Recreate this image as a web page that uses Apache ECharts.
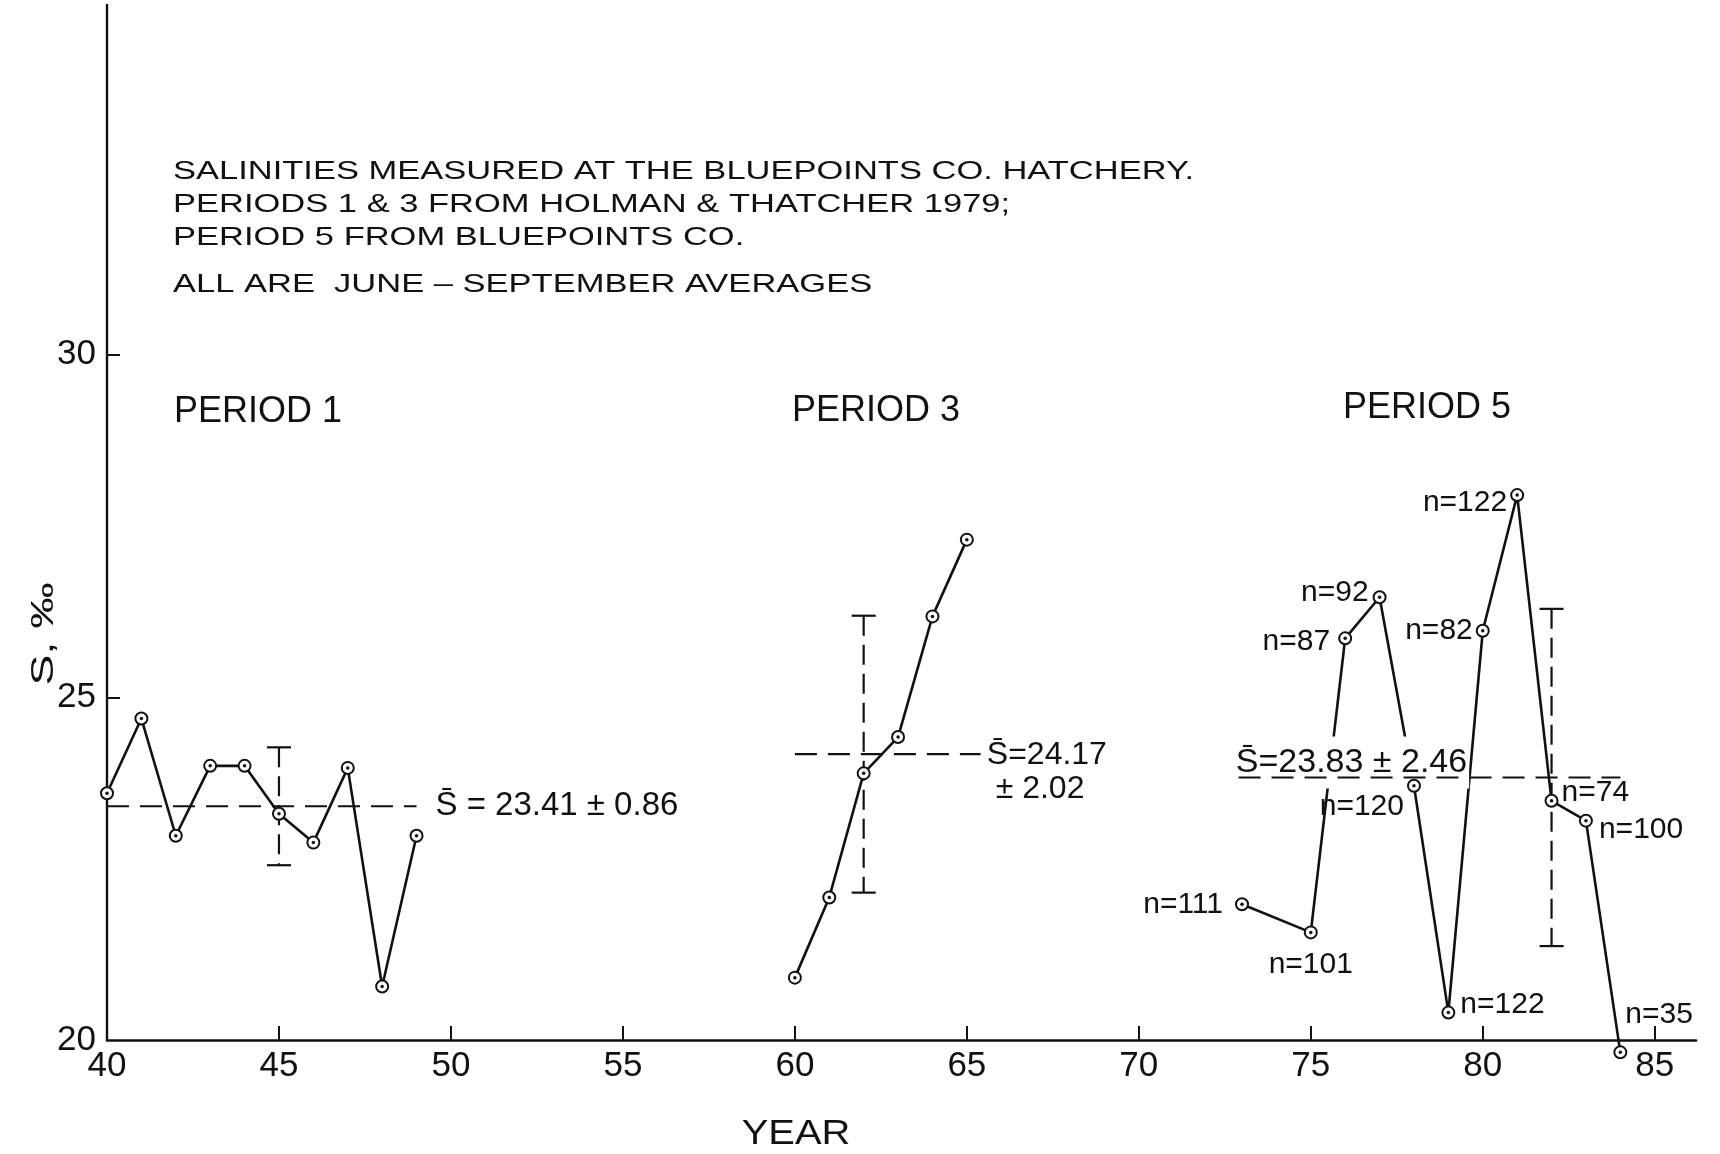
<!DOCTYPE html>
<html><head><meta charset="utf-8">
<script src="https://cdn.jsdelivr.net/npm/echarts@6/dist/echarts.min.js"></script>
<style>html,body{margin:0;padding:0;background:#fff}#chart{width:1720px;height:1154px}</style>
</head><body><div id="chart"></div>
<script>
const FONT = '"Liberation Sans", Arial, sans-serif';
const INK = '#111111';

// ---- data ----
const p1Years = [40, 41, 42, 43, 44, 45, 46, 47, 48, 49];
const p1Values = [23.60, 24.69, 22.98, 24.00, 24.00, 23.30, 22.88, 23.97, 20.78, 22.98];
const p3Years = [60, 61, 62, 63, 64, 65];
const p3Values = [20.91, 22.08, 23.89, 24.42, 26.18, 27.30];
const p5Years = [73, 75, 76, 77, 78, 79, 80, 81, 82, 83, 84];
const p5Values = [21.98, 21.57, 25.86, 26.46, 23.71, 20.40, 25.97, 27.95, 23.49, 23.20, 19.82];
const p5N = [111, 101, 87, 92, 120, 122, 82, 122, 74, 100, 35];
const periodNames = ['PERIOD 1', 'PERIOD 3', 'PERIOD 5'];
const meanValues = [23.41, 24.17, 23.83];
const sdValues = [0.86, 2.02, 2.46];
const meanStartYears = [40, 60, 72.9];
const meanEndYears = [49, 65.4, 84];
const errorBarYears = [45, 62, 82];
const meanLabels = ['S\u0304 = 23.41 \u00b1 0.86', 'S\u0304=24.17\n \u00b1 2.02', 'S\u0304=23.83 \u00b1 2.46'];
const xTickValues = [40, 45, 50, 55, 60, 65, 70, 75, 80, 85];
const yTickValues = [20, 25, 30];
const noteLines = [
  'SALINITIES MEASURED AT THE BLUEPOINTS CO. HATCHERY.',
  'PERIODS 1 & 3 FROM HOLMAN & THATCHER 1979;',
  'PERIOD 5 FROM BLUEPOINTS CO.',
  'ALL ARE  JUNE \u2013 SEPTEMBER AVERAGES'
];
const xAxisTitle = 'YEAR';
const yAxisTitle = 'S, \u2030';

// ---- layout (placement only) ----
const nLabelLayout = [
  ['left', 12, 0, 0], ['bottom', 10, 0, 0], ['left', 8, 0, 3], ['left', 4, 0, -4],
  ['left', 3, 0, 21], ['right', 5, 0, -8], ['left', 3, 0, 0], ['left', 3, 0, 8],
  ['right', 3, 0, -8], ['right', 6, 0, 9], ['right', -2, 0, -38]
];
const meanLabelAnchor = [[49.55, 0], [65.58, 18], [72.82, -15]];
const meanLabelSize = [33, 32, 34];
const periodLabelPos = [[174, 412], [792, 411], [1343, 408]];
const noteLineY = [172, 205, 238, 285];

const zip = (xs, ys) => xs.map((x, i) => [x, ys[i]]);

const lineSeries = (xs, ys) => ({
  type: 'line', data: zip(xs, ys), z: 2, clip: false,
  showSymbol: false, symbol: 'none',
  lineStyle: { color: INK, width: 2.6, opacity: 1 }, silent: true, animation: false
});

const markerData = [].concat(zip(p1Years, p1Values), zip(p3Years, p3Values));
const p5MarkerData = p5Years.map((y, i) => {
  const L = nLabelLayout[i];
  return {
    value: [y, p5Values[i]],
    label: { show: true, formatter: 'n=' + p5N[i], position: L[0], distance: L[1], offset: [L[2], L[3]] }
  };
});

const txt = (text, x, y, size, opts) => Object.assign({
  type: 'text', x: x, y: y, silent: true,
  style: Object.assign({ text: text, font: size + 'px ' + FONT, fill: INK,
    textVerticalAlign: 'middle', verticalAlign: 'middle' }, (opts && opts.style) || {})
}, (opts && opts.el) || {});

const chart = echarts.init(document.getElementById('chart'), null, { renderer: 'canvas' });
chart.setOption({
  backgroundColor: '#fff',
  animation: false,
  grid: { left: 107, right: 24, top: 5, bottom: 114 },
  xAxis: {
    type: 'value', min: 40, max: 86.2, interval: 5,
    axisLine: { lineStyle: { color: INK, width: 2.6 } },
    axisTick: { show: true, inside: true, length: 14, lineStyle: { color: INK, width: 2 }, customValues: xTickValues },
    axisLabel: { color: INK, fontFamily: FONT, fontSize: 35, margin: 9, customValues: xTickValues,
      formatter: v => (v > 85.5 ? '' : String(v)) },
    splitLine: { show: false }
  },
  yAxis: {
    type: 'value', min: 20, max: 35.1, interval: 5,
    axisLine: { show: true, lineStyle: { color: INK, width: 2.4 } },
    axisTick: { show: true, inside: true, length: 13, lineStyle: { color: INK, width: 2 }, customValues: [25, 30] },
    axisLabel: { color: INK, fontFamily: FONT, fontSize: 35, margin: 11, customValues: yTickValues,
      formatter: v => (v > 32 ? '' : String(v)) },
    splitLine: { show: false }
  },
  graphic: [].concat(
    noteLines.map((t, i) => txt(t, 173, noteLineY[i], 25, { el: { scaleX: 1.38 } })),
    periodNames.map((t, i) => txt(t, periodLabelPos[i][0], periodLabelPos[i][1], 36)),
    [
      txt(xAxisTitle, 796, 1134, 35, { el: { scaleX: 1.14 }, style: { textAlign: 'center', align: 'center' } }),
      txt(yAxisTitle, 44, 634, 32, { el: { rotation: Math.PI / 2, scaleX: 1.45 }, style: { textAlign: 'center', align: 'center' } })
    ]
  ),
  series: [
    lineSeries(p1Years, p1Values),
    lineSeries(p3Years, p3Values),
    lineSeries(p5Years, p5Values),
    // mean labels (white background breaks the lines beneath, as in the original)
    {
      type: 'scatter', z: 3, symbolSize: 0, silent: true, clip: false,
      itemStyle: { opacity: 1 },
      data: meanValues.map((m, i) => ({
        value: [meanLabelAnchor[i][0], m],
        label: {
          show: true, formatter: meanLabels[i], position: 'right', distance: 0,
          offset: [0, meanLabelAnchor[i][1]],
          color: INK, fontFamily: FONT, fontSize: meanLabelSize[i], lineHeight: 34,
          backgroundColor: i === 2 ? '#fff' : 'transparent',
          padding: i === 2 ? [2, 2, 16, 0] : 0, opacity: 1
        }
      }))
    },
    // mean dashed lines
    {
      type: 'custom', z: 4, silent: true, clip: false,
      data: meanValues.map((m, i) => [meanStartYears[i], meanEndYears[i], m]),
      renderItem: (params, api) => {
        const a = api.coord([api.value(0), api.value(2)]);
        const b = api.coord([api.value(1), api.value(2)]);
        return { type: 'line', shape: { x1: a[0], y1: a[1], x2: b[0], y2: b[1] },
          style: { stroke: INK, lineWidth: 2.2, lineDash: [22, 11] } };
      }
    },
    // error bars (mean ± SD)
    {
      type: 'custom', z: 4, silent: true, clip: false,
      data: meanValues.map((m, i) => [errorBarYears[i], m - sdValues[i], m + sdValues[i]]),
      renderItem: (params, api) => {
        const x = api.value(0);
        const lo = api.coord([x, api.value(1)]);
        const hi = api.coord([x, api.value(2)]);
        const w = api.size([0.35, 0])[0];
        return { type: 'group', children: [
          { type: 'line', shape: { x1: hi[0], y1: hi[1], x2: lo[0], y2: lo[1] },
            style: { stroke: INK, lineWidth: 2.2, lineDash: [20, 9] } },
          { type: 'line', shape: { x1: hi[0] - w, y1: hi[1], x2: hi[0] + w, y2: hi[1] },
            style: { stroke: INK, lineWidth: 2.2 } },
          { type: 'line', shape: { x1: lo[0] - w, y1: lo[1], x2: lo[0] + w, y2: lo[1] },
            style: { stroke: INK, lineWidth: 2.2 } }
        ] };
      }
    },
    // markers periods 1 & 3
    {
      type: 'scatter', z: 5, silent: true, clip: false, data: markerData,
      symbol: 'emptyCircle', symbolSize: 12,
      itemStyle: { color: INK, borderColor: INK, borderWidth: 2, opacity: 1 }
    },
    // markers period 5 with sample sizes
    {
      type: 'scatter', z: 5, silent: true, clip: false, data: p5MarkerData,
      symbol: 'emptyCircle', symbolSize: 12,
      itemStyle: { color: INK, borderColor: INK, borderWidth: 2, opacity: 1 },
      label: { color: INK, fontFamily: FONT, fontSize: 30, opacity: 1 }
    },
    // center dots
    {
      type: 'scatter', z: 6, silent: true, clip: false,
      data: markerData.concat(zip(p5Years, p5Values)),
      symbol: 'circle', symbolSize: 3.5, itemStyle: { color: INK, opacity: 1 }
    }
  ]
});
</script></body></html>
